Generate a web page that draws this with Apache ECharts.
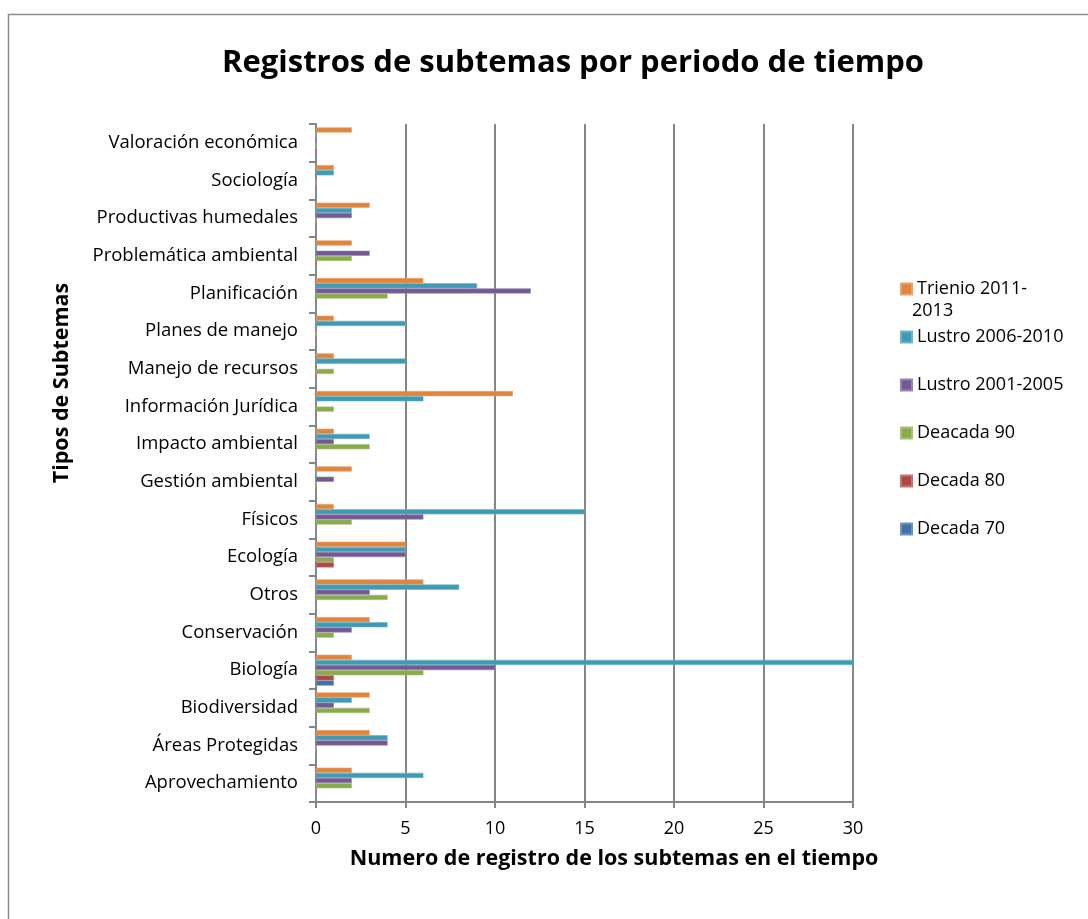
<!DOCTYPE html>
<html>
<head>
<meta charset="utf-8">
<script src="https://cdn.jsdelivr.net/npm/echarts@6/dist/echarts.min.js"></script>
<style>
  html, body { margin: 0; padding: 0; background: #fff; }
  #chart { width: 1088px; height: 919px; }
</style>
</head>
<body>
<div id="chart"></div>
<script>
// categories, bottom to top as on the axis
const categories = [
  'Aprovechamiento', 'Áreas Protegidas', 'Biodiversidad', 'Biología', 'Conservación',
  'Otros', 'Ecología', 'Físicos', 'Gestión ambiental', 'Impacto ambiental',
  'Información Jurídica', 'Manejo de recursos', 'Planes de manejo', 'Planificación',
  'Problemática ambiental', 'Productivas humedales', 'Sociología', 'Valoración económica'
];
const decada70   = [0, 0, 0, 1, 0, 0, 0, 0, 0, 0, 0, 0, 0, 0, 0, 0, 0, 0];
const decada80   = [0, 0, 0, 1, 0, 0, 1, 0, 0, 0, 0, 0, 0, 0, 0, 0, 0, 0];
const decada90   = [2, 0, 3, 6, 1, 4, 1, 2, 0, 3, 1, 1, 0, 4, 2, 0, 0, 0];
const lustro2001 = [2, 4, 1, 10, 2, 3, 5, 6, 1, 1, 0, 0, 0, 12, 3, 2, 0, 0];
const lustro2006 = [6, 4, 2, 30, 4, 8, 5, 15, 0, 3, 6, 5, 5, 9, 0, 2, 1, 0];
const trienio    = [2, 3, 3, 2, 3, 6, 5, 1, 2, 1, 11, 1, 1, 6, 2, 3, 1, 2];
const xTicks = { min: 0, max: 30, interval: 5 };

const font = 'Open Sans';
const gridGray = '#868686';

// echarts stacks horizontal bars top-down, so the top one goes first
const seriesDefs = [
  { name: 'Trienio 2011-2013', data: trienio, color: '#E0843E' },
  { name: 'Lustro 2006-2010', data: lustro2006, color: '#3F9AB3' },
  { name: 'Lustro 2001-2005', data: lustro2001, color: '#735A95' },
  { name: 'Deacada 90', data: decada90, color: '#8AAA4E' },
  { name: 'Decada 80', data: decada80, color: '#AE4846' },
  { name: 'Decada 70', data: decada70, color: '#4370A8' }
];

const chart = echarts.init(document.getElementById('chart'));
chart.setOption({
  animation: false,
  textStyle: { fontFamily: font },
  title: {
    text: 'Registros de subtemas por periodo de tiempo',
    left: 568, top: 43, textAlign: 'center',
    textStyle: { fontFamily: font, fontSize: 31, fontWeight: 'bold', color: '#000' }
  },
  grid: { left: 316, right: 235, top: 124, bottom: 117 },
  legend: [
    {
      orient: 'vertical', left: 895, top: 275,
      itemWidth: 11, itemHeight: 11, icon: 'rect',
      data: ['Trienio 2011-2013'],
      formatter: () => 'Trienio 2011-',
      textStyle: { fontFamily: font, fontSize: 18, color: '#000' }
    },
    {
      orient: 'vertical', left: 895, top: 323, itemGap: 30,
      itemWidth: 11, itemHeight: 11, icon: 'rect',
      data: ['Lustro 2006-2010', 'Lustro 2001-2005', 'Deacada 90', 'Decada 80', 'Decada 70'],
      textStyle: { fontFamily: font, fontSize: 18, color: '#000' }
    }
  ],
  xAxis: {
    type: 'value',
    min: xTicks.min, max: xTicks.max, interval: xTicks.interval,
    axisLine: { show: true, lineStyle: { color: gridGray, width: 2 } },
    axisTick: { show: true, length: 6, lineStyle: { color: gridGray, width: 2 } },
    splitLine: { show: true, lineStyle: { color: gridGray, width: 2 } },
    axisLabel: { fontFamily: font, fontSize: 18, color: '#000', margin: 18 }
  },
  yAxis: {
    type: 'category',
    data: categories,
    axisLine: { show: true, lineStyle: { color: gridGray, width: 2 } },
    axisTick: { show: true, length: 7, lineStyle: { color: gridGray, width: 2 } },
    axisLabel: { fontFamily: font, fontSize: 18.5, color: '#000', margin: 18 }
  },
  series: seriesDefs.map(s => ({
    name: s.name,
    type: 'bar',
    data: s.data,
    barGap: '0%',
    barCategoryGap: '18%',
    itemStyle: { color: s.color, borderColor: echarts.color.lift(s.color, 0.25), borderWidth: 0.6 }
  })),
  graphic: [
    {
      type: 'rect',
      shape: { x: 8.5, y: 14.5, width: 1200, height: 1000 },
      style: { fill: 'none', stroke: '#8c8c8c', lineWidth: 1.5 },
      silent: true
    },
    {
      type: 'text', x: 912, y: 311,
      style: { text: '2013', fontFamily: font, fontSize: 18, fill: '#000', verticalAlign: 'middle' }
    },
    {
      type: 'text', x: 62, y: 383, rotation: Math.PI / 2,
      style: { text: 'Tipos de Subtemas', fontFamily: font, fontSize: 21.5, fontWeight: 'bold', fill: '#000', align: 'center', verticalAlign: 'middle' }
    },
    {
      type: 'text', x: 614, y: 859,
      style: { text: 'Numero de registro de los subtemas en el tiempo', fontFamily: font, fontSize: 21.5, fontWeight: 'bold', fill: '#000', align: 'center', verticalAlign: 'middle' }
    }
  ]
});
</script>
</body>
</html>
